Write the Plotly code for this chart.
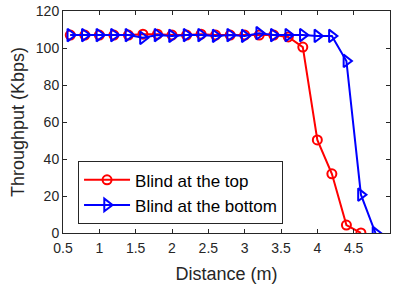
import plotly.graph_objects as go

dist_top = [0.6, 0.8, 1.0, 1.2, 1.4, 1.6, 1.8, 2.0, 2.2, 2.4, 2.6, 2.8, 3.0,
            3.2, 3.4, 3.6, 3.8, 4.0, 4.2, 4.4, 4.6]
thr_top = [107, 107, 107, 107, 107, 107.5, 107.5, 107, 107, 107.5, 107, 107, 107,
           107, 107, 106, 100.5, 50.3, 32, 4.3, 0]

dist_bot = [0.6, 0.8, 1.0, 1.2, 1.4, 1.6, 1.8, 2.0, 2.2, 2.4, 2.6, 2.8, 3.0,
            3.2, 3.4, 3.6, 3.8, 4.0, 4.2, 4.4, 4.6, 4.8]
thr_bot = [107, 107, 107, 107, 107, 105.5, 107, 106.5, 107, 107, 106.5, 107, 106.5,
           108, 107, 107, 107, 106.5, 106.5, 93, 20.7, 0]

x_ticks = [0.5, 1, 1.5, 2, 2.5, 3, 3.5, 4, 4.5, 5]
x_ticklabels = ["0.5", "1", "1.5", "2", "2.5", "3", "3.5", "4", "4.5", "5"]
y_ticks = [0, 20, 40, 60, 80, 100, 120]

fig = go.Figure()
fig.add_trace(go.Scatter(
    x=dist_top, y=thr_top, mode="lines+markers", name="Blind at the top",
    line=dict(color="#ff0000", width=2),
    marker=dict(symbol="circle-open", size=9, color="#ff0000", line=dict(width=2)),
))
fig.add_trace(go.Scatter(
    x=dist_bot, y=thr_bot, mode="lines+markers", name="Blind at the bottom",
    line=dict(color="#0000ff", width=2),
    marker=dict(symbol="triangle-right-open", size=11, color="#0000ff", line=dict(width=2)),
))

axis_common = dict(
    showline=True, linecolor="#262626", linewidth=1, mirror="ticks",
    ticks="inside", ticklen=4, tickcolor="#262626", showgrid=False, zeroline=False,
    automargin=False,
    tickfont=dict(family="Liberation Sans, Arial, sans-serif", size=14, color="#262626"),
)

fig.update_layout(
    width=393, height=289,
    margin=dict(l=63, r=3, t=11, b=56),
    paper_bgcolor="white", plot_bgcolor="white",
    font=dict(family="Liberation Sans, Arial, sans-serif", color="#262626"),
    xaxis=dict(range=[0.5, 5], tickvals=x_ticks, ticktext=x_ticklabels,
               ticklabelstandoff=2,
               title=dict(text="Distance (m)", font=dict(size=18), standoff=12),
               **axis_common),
    yaxis=dict(range=[0, 120], tickvals=y_ticks,
               title=dict(text="Throughput (Kbps)", font=dict(size=18), standoff=6),
               **axis_common),
    legend=dict(x=0.046, y=0.181, xanchor="left", yanchor="middle",
                bgcolor="white", bordercolor="#262626", borderwidth=1,
                font=dict(size=17, color="#000000"), tracegroupgap=0,
                itemwidth=46),
    showlegend=True,
)

fig.write_html("out.html",
               config={"displayModeBar": False},
               post_script="document.body.style.margin='0';document.body.style.overflow='hidden';")
